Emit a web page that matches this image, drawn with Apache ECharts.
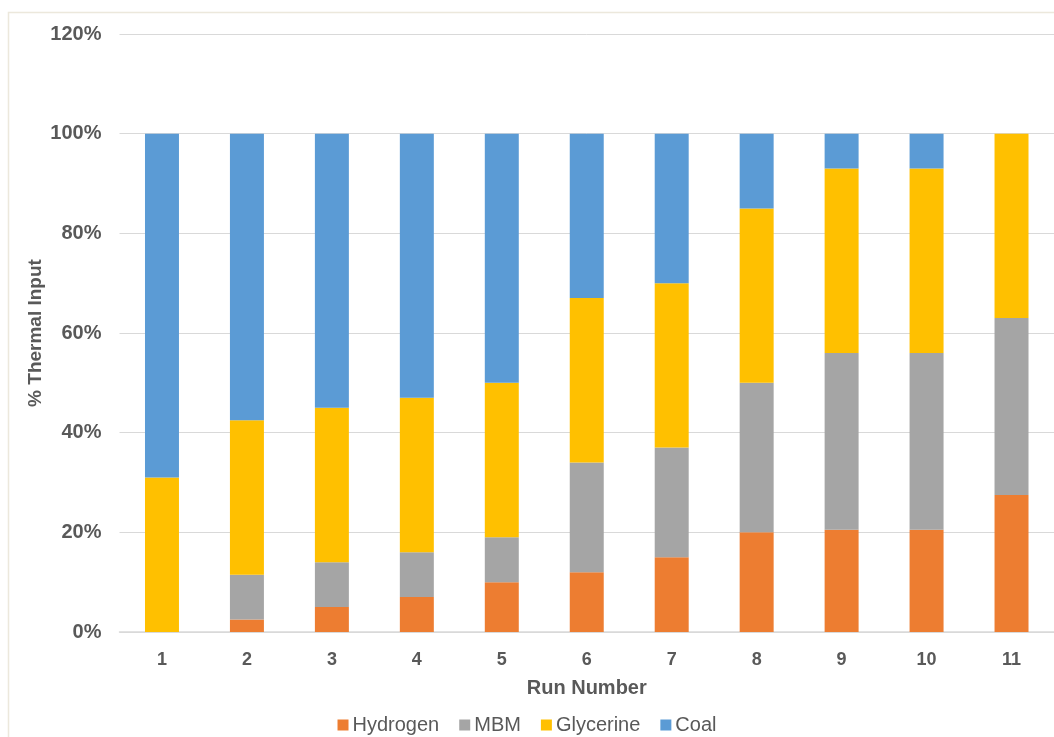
<!DOCTYPE html>
<html>
<head>
<meta charset="utf-8">
<script src="https://cdn.jsdelivr.net/npm/echarts@6/dist/echarts.min.js"></script>
<style>
  html, body { margin: 0; padding: 0; background: #ffffff; }
  #chart { width: 1054px; height: 737px; }
</style>
</head>
<body>
<div id="chart"></div>
<script>
// Share of thermal input per run (percent)
const runs = ['1', '2', '3', '4', '5', '6', '7', '8', '9', '10', '11'];
const hydrogen  = [0, 2.5, 5, 7, 10, 12, 15, 20, 20.5, 20.5, 27.5];
const mbm       = [0, 9, 9, 9, 9, 22, 22, 30, 35.5, 35.5, 35.5];
const glycerine = [31, 31, 31, 31, 31, 33, 33, 35, 37, 37, 37];
const coal      = [69, 57.5, 55, 53, 50, 33, 30, 15, 7, 7, 0];

const seriesNames  = ['Hydrogen', 'MBM', 'Glycerine', 'Coal'];
const seriesColors = ['#ED7D31', '#A5A5A5', '#FFC000', '#5B9BD5'];
const seriesValues = [hydrogen, mbm, glycerine, coal];

const textColor = '#595959';
const fontFamily = '"Liberation Sans", Arial, sans-serif';

const chart = echarts.init(document.getElementById('chart'), null, { renderer: 'canvas' });

chart.setOption({
  animation: false,
  backgroundColor: '#ffffff',
  textStyle: { fontFamily: fontFamily },
  graphic: [{
    type: 'rect',
    shape: { x: 8.5, y: 12.5, width: 1100, height: 800 },
    style: { fill: 'none', stroke: '#ece8dc', lineWidth: 1.5 },
    silent: true,
    z: -10
  }],
  grid: { left: 119.5, right: 0, top: 34, bottom: 105 },
  legend: {
    top: 710,
    left: 'center',
    itemWidth: 11,
    itemHeight: 11,
    itemGap: 20,
    icon: 'rect',
    textStyle: { color: textColor, fontSize: 20, fontFamily: fontFamily, padding: [0, 0, 0, -1] },
    data: seriesNames
  },
  xAxis: {
    type: 'category',
    data: runs,
    name: 'Run Number',
    nameLocation: 'middle',
    nameGap: 46,
    nameMoveOverlap: false,
    nameTextStyle: { color: textColor, fontSize: 20, fontWeight: 'bold', fontFamily: fontFamily },
    axisLine: { show: true, lineStyle: { color: '#d9d9d9', width: 1.5 } },
    axisTick: { show: false },
    axisLabel: { color: textColor, fontSize: 18, fontWeight: 'bold', margin: 19, fontFamily: fontFamily }
  },
  yAxis: {
    type: 'value',
    min: 0,
    max: 120,
    interval: 20,
    name: '% Thermal Input',
    nameLocation: 'middle',
    nameGap: 74,
    nameMoveOverlap: false,
    nameTextStyle: { color: textColor, fontSize: 19, fontWeight: 'bold', fontFamily: fontFamily },
    axisLine: { show: false },
    axisTick: { show: false },
    axisLabel: {
      color: textColor, fontSize: 20, fontWeight: 'bold', margin: 18, fontFamily: fontFamily,
      formatter: v => v + '%'
    },
    splitLine: { lineStyle: { color: '#d9d9d9', width: 1 } }
  },
  series: seriesNames.map((name, i) => ({
    name: name,
    type: 'bar',
    stack: 'total',
    barWidth: '40%',
    itemStyle: { color: seriesColors[i] },
    data: seriesValues[i]
  }))
});
</script>
</body>
</html>
